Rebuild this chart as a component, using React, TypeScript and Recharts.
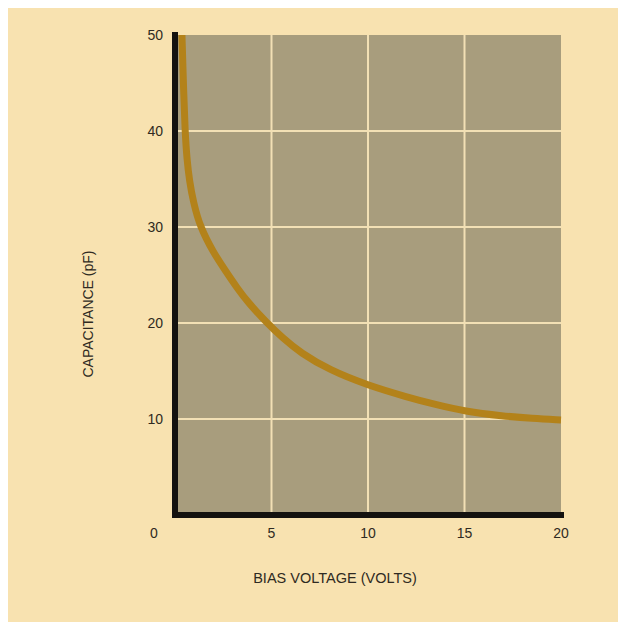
import { CartesianGrid, Label, Line, LineChart, XAxis, YAxis } from "recharts";

// bias voltage (V) vs capacitance (pF)
const voltage = [0.36, 0.45, 0.52, 0.62, 0.75, 0.95, 1.3, 2.0, 2.6, 3.2, 3.8, 4.77, 5.6, 6.5, 8, 10, 12, 13.5, 15, 17, 18.5, 20];
const capacitance = [50, 44, 40, 37, 34.8, 32.6, 30, 27.3, 25.5, 23.7, 22.1, 20, 18.4, 16.9, 15.1, 13.5, 12.3, 11.5, 10.8, 10.3, 10.05, 9.9];

const xTicks = [0, 5, 10, 15, 20];
const yTicks = [10, 20, 30, 40, 50];
const xGrid = [5, 10, 15];
const yGrid = [10, 20, 30, 40];

const data = voltage.map((v, i) => ({ v, c: capacitance[i] }));

const font = "'Liberation Sans', Arial, sans-serif";
const ink = "#2f2a22";

function XTick(props: any) {
  const { x, y, payload } = props;
  // the corner "0" sits left of the origin
  const shift = payload.value === 0 ? -21 : 0;
  return (
    <text x={x + shift} y={y} dy="0.71em" textAnchor="middle" fill={ink} fontSize={14} fontFamily={font}>
      {payload.value}
    </text>
  );
}

export default function App() {
  return (
    <div style={{ width: 618, height: 614, background: "#f8e2b0" }}>
      <LineChart width={618} height={614} data={data} margin={{ top: 27, right: 65, left: 0, bottom: 0 }}>
        <CartesianGrid
          fill="#a89d7d"
          fillOpacity={1}
          stroke="#f2e0b5"
          strokeWidth={2}
          horizontalValues={yGrid}
          verticalValues={xGrid}
        />
        <XAxis
          dataKey="v"
          type="number"
          domain={[0, 20]}
          ticks={xTicks}
          height={107}
          tickSize={0}
          tickMargin={13}
          tick={<XTick />}
          axisLine={{ stroke: "#141210", strokeWidth: 6, strokeLinecap: "square" }}
        >
          <Label
            value="BIAS VOLTAGE (VOLTS)"
            position="center"
            dx={-33}
            dy={9.5}
            style={{ fill: ink, fontSize: 14.5, fontFamily: font }}
          />
        </XAxis>
        <YAxis
          type="number"
          domain={[0, 50]}
          ticks={yTicks}
          width={167}
          tickSize={0}
          tickMargin={12}
          tick={{ fill: ink, fontSize: 14, fontFamily: font }}
          axisLine={{ stroke: "#141210", strokeWidth: 6, strokeLinecap: "square" }}
        >
          <Label
            value="CAPACITANCE (pF)"
            position="center"
            angle={-90}
            dx={-3.5}
            dy={39}
            style={{ fill: ink, fontSize: 14, fontFamily: font }}
          />
        </YAxis>
        <Line
          type="basis"
          dataKey="c"
          stroke="#b3821a"
          strokeWidth={7}
          dot={false}
          isAnimationActive={false}
        />
      </LineChart>
    </div>
  );
}
